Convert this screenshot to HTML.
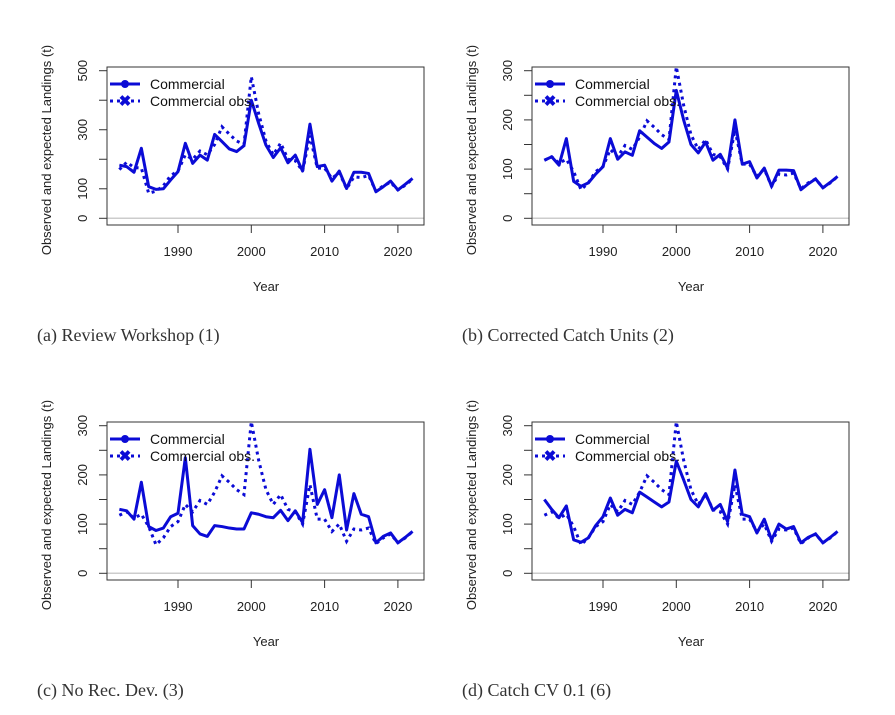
<!DOCTYPE html>
<html><head><meta charset="utf-8"><style>
body{margin:0;background:#fff;width:895px;height:710px;overflow:hidden}
svg text{font-family:"Liberation Sans",sans-serif}
.cap{font-family:"Liberation Serif",serif;font-size:18px;fill:#333}
</style></head><body>
<svg id="chart" width="895" height="710" xmlns="http://www.w3.org/2000/svg"></svg>
<script>
const years = Array.from({length:41},(_,i)=>1982+i);
const expA = [180,175,156,237,107,98,100,130,158,254,186,214,197,284,260,235,226,246,400,322,248,206,239,188,214,160,319,175,180,126,160,101,156,156,152,90,107,126,96,115,135];
const obsA = [165,190,172,170,85,92,110,145,160,215,200,228,215,250,310,285,262,250,480,355,262,215,255,200,195,160,280,170,170,135,155,100,140,138,145,92,110,122,96,112,133];
const expB = [118,125,108,162,75,65,72,90,105,162,120,135,128,178,165,152,142,155,260,200,150,133,155,118,130,102,200,110,115,82,102,65,98,98,97,58,70,80,62,73,85];
const obsAll = [118,125,112,120,95,58,72,95,105,140,125,148,140,165,198,185,170,160,308,230,170,140,160,130,125,100,180,110,110,85,100,65,90,88,92,60,72,80,62,72,85];
const expC = [130,127,110,185,95,87,92,115,122,235,97,80,75,97,95,92,90,90,123,120,115,113,128,107,127,103,252,140,170,113,200,88,162,120,115,62,75,82,62,73,85];
const expD = [150,130,113,137,68,63,72,97,115,153,118,130,123,165,155,145,135,145,228,190,150,135,162,128,140,105,210,120,115,82,110,68,100,90,95,62,73,80,62,73,85];
const xTicks = [1990,2000,2010,2020];
const yTicksA = [0,100,200,300,400,500], yLabA = [0,100,300,500];
const yTicksB = [0,50,100,150,200,250,300], yLabB = [0,100,200,300];
const captions = ["(a) Review Workshop (1)","(b) Corrected Catch Units (2)","(c) No Rec. Dev. (3)","(d) Catch CV 0.1 (6)"];

const NS="http://www.w3.org/2000/svg", svg=document.getElementById('chart');
function mk(t,a,p){const e=document.createElementNS(NS,t);for(const k in a)e.setAttribute(k,a[k]);(p||svg).appendChild(e);return e;}
const COL='#0b0bd6';
function panel(dx,dy,exp,obs,ymax,ticks,labs,cap,name){
  const g=mk('g',{transform:`translate(${dx},${dy})`});
  
  
  const x=v=>178+(v-1990)*7.33;
  const y=v=>218.3-v*(147.6/ymax);
  mk('line',{x1:107,x2:424,y1:y(0),y2:y(0),stroke:'#ccc','stroke-width':1.5},g);
  const box=mk('rect',{x:107,y:67,width:317,height:158,fill:'none',stroke:'#333','stroke-width':1},g);
  
  ticks.forEach(t=>mk('line',{x1:99,x2:107,y1:y(t),y2:y(t),stroke:'#333'},g));
  labs.forEach(t=>{const e=mk('text',{x:0,y:0,'font-size':13,'text-anchor':'middle',fill:'#222',transform:`translate(87,${y(t)}) rotate(-90)`},g);e.textContent=t;
    });
  xTicks.forEach(t=>{mk('line',{x1:x(t),x2:x(t),y1:225,y2:233,stroke:'#333'},g);
    const e=mk('text',{x:x(t),y:256,'font-size':13,'text-anchor':'middle',fill:'#222'},g);e.textContent=t;
    });
  let e=mk('text',{x:266,y:291,'font-size':13,'text-anchor':'middle',fill:'#222'},g);e.textContent='Year';
  
  e=mk('text',{x:0,y:0,'font-size':13,'text-anchor':'middle',fill:'#222',transform:'translate(51,150) rotate(-90)'},g);e.textContent='Observed and expected Landings (t)';
  
  const po=mk('polyline',{points:obs.map((v,i)=>x(years[i])+','+y(v)).join(' '),fill:'none',stroke:COL,'stroke-width':3,'stroke-dasharray':'3,4'},g);
  
  const pe=mk('polyline',{points:exp.map((v,i)=>x(years[i])+','+y(v)).join(' '),fill:'none',stroke:COL,'stroke-width':3,'stroke-linejoin':'round'},g);
  
  mk('line',{x1:110,x2:140,y1:84,y2:84,stroke:COL,'stroke-width':3},g);
  mk('circle',{cx:125,cy:84,r:4,fill:COL},g);
  mk('line',{x1:110,x2:140,y1:101,y2:101,stroke:COL,'stroke-width':3,'stroke-dasharray':'3,4'},g);
  mk('text',{x:125,y:106,'font-size':15,'font-weight':'bold','text-anchor':'middle',fill:COL},g).textContent='✖';
  e=mk('text',{x:150,y:89,'font-size':14,fill:'#111'},g);e.textContent='Commercial';
  
  e=mk('text',{x:150,y:106,'font-size':14,fill:'#111'},g);e.textContent='Commercial obs.';
  
  e=mk('text',{x:37,y:341,class:'cap'},g);e.textContent=cap;
  
}
panel(0,0,expA,obsA,500,yTicksA,yLabA,captions[0],'panel-a');
panel(425,0,expB,obsAll,300,yTicksB,yLabB,captions[1],'panel-b');
panel(0,355,expC,obsAll,300,yTicksB,yLabB,captions[2],'panel-c');
panel(425,355,expD,obsAll,300,yTicksB,yLabB,captions[3],'panel-d');
</script>
</body></html>
